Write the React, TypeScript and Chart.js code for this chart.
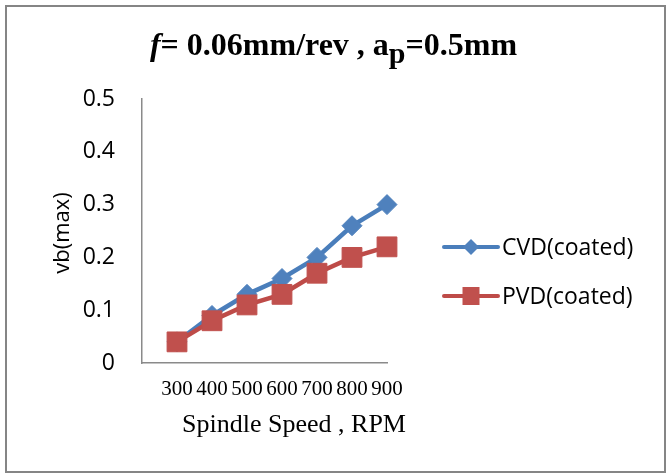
import React, { useEffect, useRef } from "react";
import { Chart, registerables } from "chart.js";

Chart.register(...registerables);

const categories = [300, 400, 500, 600, 700, 800, 900];
const cvdValues = [0.04, 0.09, 0.13, 0.16, 0.2, 0.26, 0.3];
const pvdValues = [0.04, 0.08, 0.11, 0.13, 0.17, 0.2, 0.22];
const seriesNames = ["CVD(coated)", "PVD(coated)"];
const yTitle = "vb(max)";
const xTitle = "Spindle Speed , RPM";

const BLUE_LINE = "#4A7EBB";
const BLUE_FILL = "#4F81BD";
const RED_LINE = "#BE4B48";
const RED_FILL = "#C0504D";
const AXIS = "#8a8a8a";

const textPlugin = {
  id: "customText",
  afterDraw(chart: any) {
    const ctx = chart.ctx as CanvasRenderingContext2D;
    ctx.save();
    ctx.fillStyle = "#000";
    // x title
    ctx.font = "26px 'Liberation Serif'";
    ctx.textAlign = "center";
    ctx.textBaseline = "alphabetic";
    ctx.fillText(xTitle, 294, 432);
    // y title
    ctx.save();
    ctx.translate(69, 233);
    ctx.rotate(-Math.PI / 2);
    ctx.font = "22px 'Open Sans'";
    ctx.textAlign = "center";
    ctx.fillText(yTitle, 0, 0);
    ctx.restore();
    // legend
    const items = [
      { y: 247, line: BLUE_LINE, fill: BLUE_FILL, style: "diamond" },
      { y: 296, line: RED_LINE, fill: RED_FILL, style: "square" },
    ];
    items.forEach((it, i) => {
      ctx.strokeStyle = it.line;
      ctx.lineWidth = 4;
      ctx.lineCap = "round";
      ctx.beginPath();
      ctx.moveTo(444, it.y);
      ctx.lineTo(498, it.y);
      ctx.stroke();
      ctx.fillStyle = it.fill;
      ctx.beginPath();
      const cx = 471;
      if (it.style === "diamond") {
        const r = 8;
        ctx.moveTo(cx - r, it.y);
        ctx.lineTo(cx, it.y - r);
        ctx.lineTo(cx + r, it.y);
        ctx.lineTo(cx, it.y + r);
        ctx.closePath();
      } else {
        ctx.rect(cx - 8.5, it.y - 9, 17, 18);
      }
      ctx.fill();
      ctx.fillStyle = "#000";
      ctx.font = "23px 'Open Sans'";
      ctx.textAlign = "left";
      ctx.textBaseline = "alphabetic";
      ctx.fillText(chart.data.datasets[i].label, 502, it.y + 8);
    });
    ctx.restore();
  },
};

export default function App() {
  const ref = useRef<HTMLCanvasElement | null>(null);

  useEffect(() => {
    if (!ref.current) return;
    const chart = new Chart(ref.current, {
      type: "line",
      data: {
        datasets: [
          {
            label: seriesNames[0],
            data: categories.map((c, i) => ({ x: c, y: cvdValues[i] })),
            borderColor: BLUE_LINE,
            backgroundColor: BLUE_FILL,
            borderWidth: 4.5,
            pointStyle: "rectRot",
            pointRadius: 10,
            pointBorderColor: BLUE_FILL,
            pointBackgroundColor: BLUE_FILL,
            pointBorderWidth: 1,
            order: 1,
            clip: false as any,
          },
          {
            label: seriesNames[1],
            data: categories.map((c, i) => ({ x: c, y: pvdValues[i] })),
            borderColor: RED_LINE,
            backgroundColor: RED_FILL,
            borderWidth: 4.5,
            pointStyle: "rect",
            pointRadius: 14,
            pointBorderColor: RED_FILL,
            pointBackgroundColor: RED_FILL,
            pointBorderWidth: 1,
            order: 0,
            clip: false as any,
          },
        ],
      },
      options: {
        animation: false,
        responsive: false,
        events: [],
        layout: { padding: { left: 0, right: 280, top: 99, bottom: 0 } },
        plugins: {
          legend: { display: false },
          tooltip: { enabled: false },
          title: { display: false },
        },
        scales: {
          x: {
            type: "linear",
            min: 200,
            max: 900,
            afterBuildTicks: (s: any) => {
              s.ticks = categories.map((v) => ({ value: v }));
            },
            afterFit: (s: any) => {
              s.height = 110;
            },
            grid: { display: false, drawTicks: false },
            border: { display: true, color: AXIS, width: 1.5 },
            ticks: {
              padding: 14,
              autoSkip: false,
              maxRotation: 0,
              color: "#000",
              font: { family: "'Liberation Serif'", size: 21 },
              callback: (v: any) => String(v),
            },
          },
          y: {
            min: 0,
            max: 0.5,
            afterFit: (s: any) => {
              s.width = 142;
            },
            grid: { display: false, drawTicks: false },
            border: { display: true, color: AXIS, width: 1.5 },
            ticks: {
              stepSize: 0.1,
              padding: 27,
              color: "#000",
              font: { family: "'Open Sans'", size: 23 },
            },
          },
        },
      },
      plugins: [textPlugin],
    });
    return () => chart.destroy();
  }, []);

  return (
    <div
      style={{
        position: "fixed",
        left: 0,
        top: 0,
        width: 667,
        height: 473,
        background: "#fff",
        overflow: "hidden",
      }}
    >
      <div
        style={{
          position: "absolute",
          left: 5,
          top: 5,
          width: 661,
          height: 468,
          boxSizing: "border-box",
          border: "2px solid #858585",
        }}
      />
      <canvas
        ref={ref}
        width={667}
        height={473}
        style={{ position: "absolute", left: 0, top: 0, width: 667, height: 473 }}
      />
      <div
        style={{
          position: "absolute",
          left: 0,
          top: 28,
          width: 667,
          textAlign: "center",
          fontFamily: "'Liberation Serif'",
          fontWeight: "bold",
          fontSize: 32,
          lineHeight: "32px",
          whiteSpace: "nowrap",
          color: "#000",
        }}
      >
        <i>f</i>= 0.06mm/rev , a
        <span style={{ fontSize: 30, position: "relative", top: 8 }}>p</span>
        =0.5mm
      </div>
    </div>
  );
}
